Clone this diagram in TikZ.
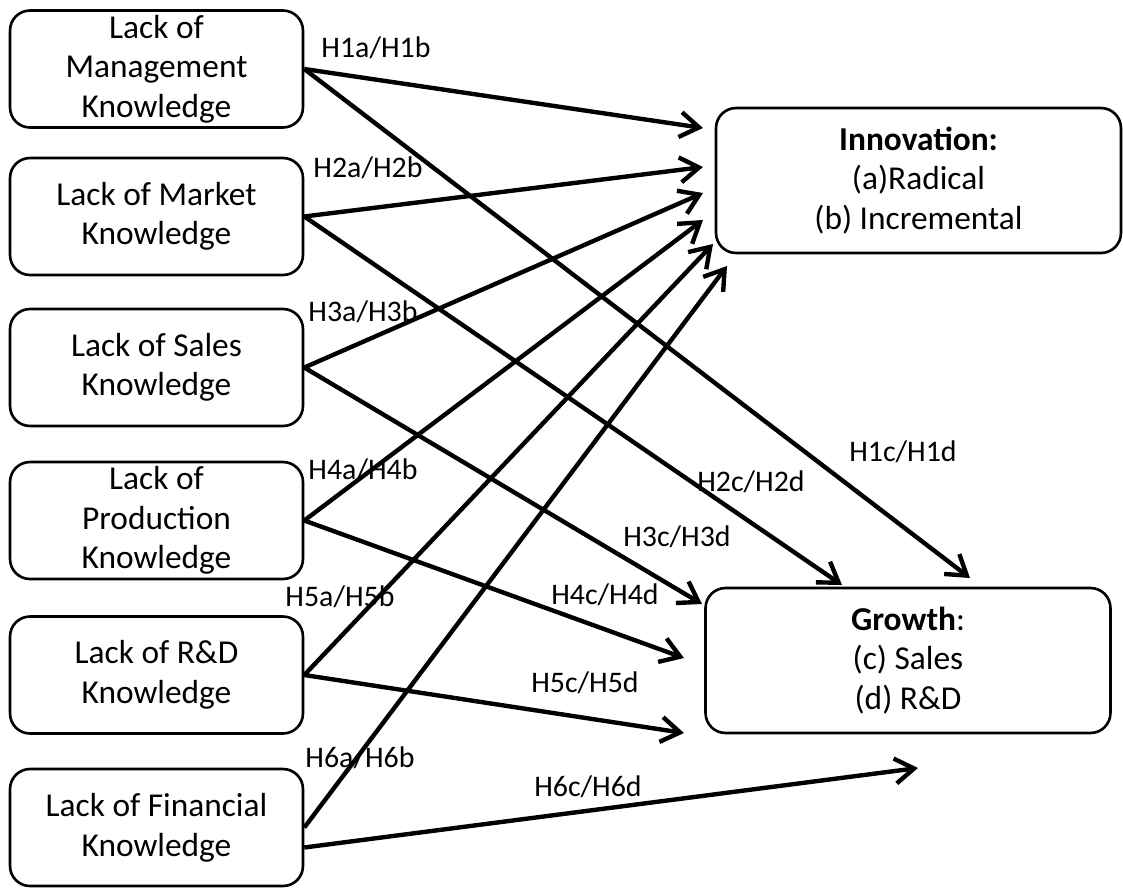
\documentclass[tikz,border=0pt]{standalone}
\usepackage{fontspec}
\setmainfont{Carlito}
\usetikzlibrary{arrows.meta}
\tikzset{
    lack/.style={draw, line width=1.5pt, rounded corners=0.4cm, minimum width=5.86cm, minimum height=2.34cm, align=center, inner sep=0pt, font=\fontsize{19}{22.5}\selectfont},
    goal/.style={lack, minimum width=8.1cm, minimum height=2.9cm},
    hyp/.style={inner sep=0pt, font=\fontsize{17}{20}\selectfont},
    link/.style={line width=2.5pt, -{Straight Barb[length=0.38cm,width=0.5cm]}}
}
\begin{document}
\begin{tikzpicture}[x=0.02cm, y=-0.02cm]
\useasboundingbox (0,0) rectangle (1123,887);
\node[lack] (mgmt) at (156.5,69) {Lack of\\Management\\Knowledge};
\node[lack] (market) at (156.5,216.5) {Lack of Market\\Knowledge};
\node[lack] (sales) at (156.5,367.5) {Lack of Sales\\Knowledge};
\node[lack] (prod) at (156.5,520.5) {Lack of\\Production\\Knowledge};
\node[lack] (rd) at (156.5,675) {Lack of R\&D\\Knowledge};
\node[lack] (fin) at (156.5,827.5) {Lack of Financial\\Knowledge};

\node[goal] (innov) at (918.5,180.5) {\textbf{Innovation:}\\(a)Radical\\(b) Incremental};
\node[goal] (growth) at (908,660.5) {\textbf{Growth}:\\(c) Sales\\(d) R\&D};

\coordinate (t1a) at (703,128);
\coordinate (t2a) at (703,167);
\coordinate (t3a) at (703,193);
\coordinate (t4a) at (703,220);
\coordinate (t5a) at (713,244);
\coordinate (t6a) at (727,266);
\coordinate (t1c) at (970,578);
\coordinate (t2c) at (842,585);
\coordinate (t3c) at (702,604);
\coordinate (t4c) at (684,658);
\coordinate (t5c) at (684,733);
\coordinate (t6c) at (918,768);

\foreach \s/\n in {mgmt/1, market/2, sales/3, prod/4, rd/5}
{
    \draw[link] (\s.east)--(t\n a);
    \draw[link] (\s.east)--(t\n c);
}
\draw[link] (fin.east)--(t6a);
\draw[link] ([yshift=-0.4cm]fin.east)--(t6c);

\foreach \n/\x/\y in {1/376/48, 2/368/168, 3/363/312, 4/363/470, 5/340/597, 6/360/758}
{
    \node[hyp] (h\n ab) at (\x,\y) {H\n a/H\n b};
}
\foreach \n/\x/\y in {1/903/452, 2/751/482, 3/677/537, 4/605/595, 5/585/683, 6/588/787}
{
    \node[hyp] (h\n cd) at (\x,\y) {H\n c/H\n d};
}
\end{tikzpicture}
\end{document}
